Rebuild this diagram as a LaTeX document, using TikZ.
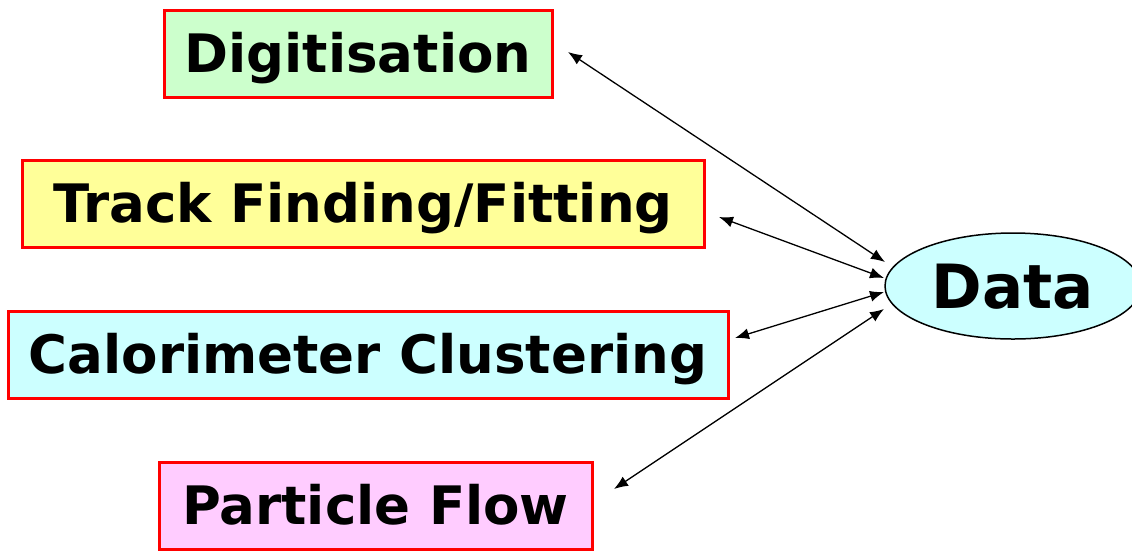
\documentclass[tikz,border=0pt]{standalone}
\usepackage{fontspec}
\setmainfont{DejaVu Sans}
\usetikzlibrary{arrows.meta,shapes.geometric}
\definecolor{boxred}{RGB}{255,0,0}
\definecolor{fgreen}{RGB}{204,255,204}
\definecolor{fyellow}{RGB}{255,255,153}
\definecolor{fcyan}{RGB}{204,255,255}
\definecolor{fpink}{RGB}{255,204,255}
\tikzset{
  stagebox/.style={draw=boxred, line width=3pt, inner sep=0pt, minimum height=87pt,
    text height=38.6pt, text depth=0pt,
    font=\fontsize{53}{58}\selectfont\bfseries, text=black},
  dataell/.style={ellipse, draw=black, line width=1.5pt, fill=fcyan, inner sep=0pt,
    minimum width=256pt, minimum height=106pt, text height=44.5pt, text depth=0pt,
    font=\fontsize{61}{66}\selectfont\bfseries},
  link/.style={line width=1.3pt, {Latex[length=14pt,width=11pt]}-{Latex[length=14pt,width=11pt]}}
}
\begin{document}
\begin{tikzpicture}[x=1pt,y=-1pt]
\useasboundingbox (0,0) rectangle (1132,550);
\node[stagebox, fill=fgreen, minimum width=388pt] (dig) at (358,53.5) {Digitisation};
\node[stagebox, fill=fyellow, minimum width=682pt] (trk) at (363,203.5) {Track Finding/Fitting};
\node[stagebox, fill=fcyan, minimum width=720pt] (cal) at (368,354.5) {Calorimeter Clustering};
\node[stagebox, fill=fpink, minimum width=433pt] (pf) at (375.5,505.5) {Particle Flow};
\node[dataell] (data) at (1013,286) {Data};
\coordinate (a1) at (568,52);  \coordinate (b1) at (885,262);
\coordinate (a2) at (719,217); \coordinate (b2) at (884,278);
\coordinate (a3) at (735,338); \coordinate (b3) at (884,292);
\coordinate (a4) at (614,489); \coordinate (b4) at (884,309);
\draw[link] (a1) -- (b1);
\draw[link] (a2) -- (b2);
\draw[link] (a3) -- (b3);
\draw[link] (a4) -- (b4);
\end{tikzpicture}
\end{document}
